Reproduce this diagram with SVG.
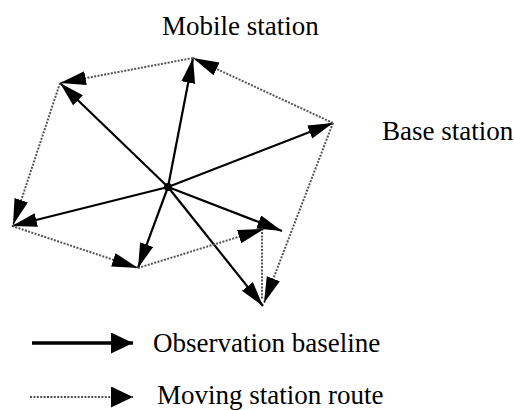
<svg xmlns="http://www.w3.org/2000/svg" width="515" height="410" viewBox="0 0 515 410">
  <defs>
    <marker id="headSolid" markerUnits="userSpaceOnUse" markerWidth="30" markerHeight="16" refX="25" refY="7" orient="auto">
      <path d="M0,0 L25,7 L0,14 Z" fill="#000"/>
    </marker>
    <marker id="headDot" markerUnits="userSpaceOnUse" markerWidth="30" markerHeight="16" refX="26" refY="7" orient="auto">
      <path d="M0,0 L26,7 L0,14 Z" fill="#000"/>
    </marker>
    <marker id="headLegend" markerUnits="userSpaceOnUse" markerWidth="26" markerHeight="24" refX="22" refY="10.5" orient="auto">
      <path d="M0,0 L22,10.5 L0,21 Z" fill="#000"/>
    </marker>
  </defs>
  <style>
    .base { stroke: #000; stroke-width: 2.2; fill: none; marker-end: url(#headSolid); }
    .route { stroke: #555; stroke-width: 2; stroke-dasharray: 2 1.4; fill: none; }
    .routeA { marker-end: url(#headDot); }
    .lbl { font-family: "Liberation Serif", "Times New Roman", serif; font-size: 27px; fill: #000; }
  </style>
  <rect width="515" height="410" fill="#fff"/>

  <g id="connectors">
    <!-- observation baselines -->
    <line class="base" x1="168" y1="187" x2="60" y2="83"/>
    <line class="base" x1="168" y1="187" x2="193" y2="58"/>
    <line class="base" x1="168" y1="187" x2="333" y2="123"/>
    <line class="base" x1="168" y1="187" x2="282" y2="231"/>
    <line class="base" x1="168" y1="187" x2="263" y2="306"/>
    <line class="base" x1="168" y1="187" x2="138" y2="268"/>
    <line class="base" x1="168" y1="187" x2="12" y2="226"/>
    <!-- moving station route -->
    <line class="route routeA" x1="333" y1="123" x2="193" y2="58"/>
    <line class="route routeA" x1="193" y1="58" x2="60" y2="83"/>
    <line class="route routeA" x1="60" y1="83" x2="13" y2="225"/>
    <line class="route routeA" x1="12" y1="226" x2="138" y2="268"/>
    <line class="route routeA" x1="138" y1="268" x2="264" y2="229"/>
    <line class="route" x1="262" y1="232" x2="262" y2="300"/>
    <line class="route routeA" x1="333" y1="123" x2="264" y2="303"/>
  </g>

  <g id="center-station">
    <circle cx="168" cy="187" r="4" fill="#000"/>
  </g>

  <g id="mobile-station-label">
    <text class="lbl" x="162" y="35">Mobile station</text>
  </g>
  <g id="base-station-label">
    <text class="lbl" x="382" y="140">Base station</text>
  </g>

  <g id="legend-baseline">
    <line x1="32" y1="343" x2="133" y2="343" stroke="#000" stroke-width="3.5" marker-end="url(#headLegend)"/>
    <text class="lbl" x="153" y="352">Observation baseline</text>
  </g>
  <g id="legend-route">
    <line x1="30" y1="397" x2="133" y2="397" stroke="#555" stroke-width="2.2" stroke-dasharray="2 1.4" marker-end="url(#headLegend)"/>
    <text class="lbl" x="157" y="404">Moving station route</text>
  </g>
</svg>
